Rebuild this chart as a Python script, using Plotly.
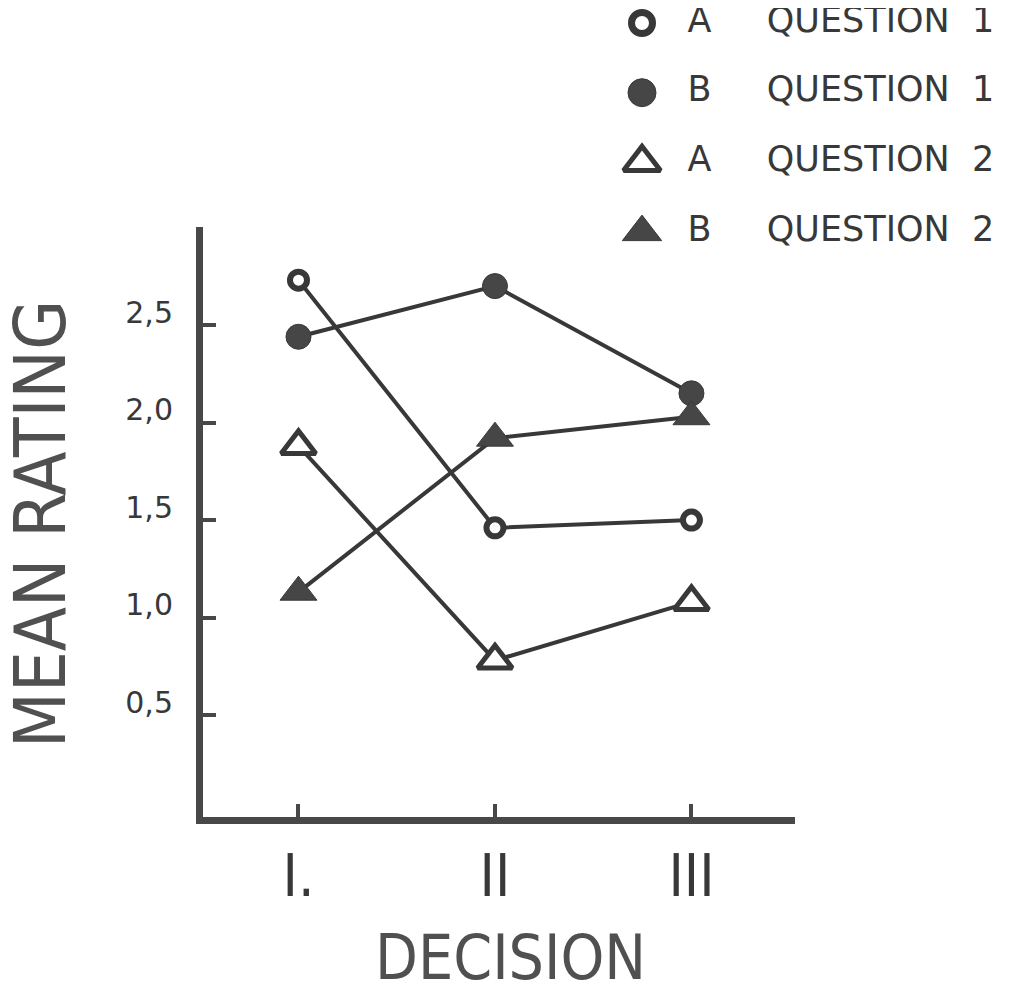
import plotly.graph_objects as go

# ---- data ----
decisions = ["I.", "II", "III"]
a_question1 = [2.73, 1.46, 1.50]
b_question1 = [2.44, 2.70, 2.15]
a_question2 = [1.88, 0.78, 1.08]
b_question2 = [1.13, 1.92, 2.03]
y_tick_values = [0.5, 1.0, 1.5, 2.0, 2.5, 3.0]
y_tick_labels = ["0,5", "1,0", "1,5", "2,0", "2,5", ""]

legend_groups = ["A", "B", "A", "B"]
legend_labels = ["QUESTION\u00a0\u00a01", "QUESTION\u00a0\u00a01",
                 "QUESTION\u00a0\u00a02", "QUESTION\u00a0\u00a02"]
legend_rows = [0, 1, 2, 3]

INK = "#383838"
AXIS_INK = "#484848"
NARROW = "DejaVu Sans Condensed, Liberation Sans Narrow, Liberation Sans, sans-serif"
ROUND = "DejaVu Sans, Verdana, sans-serif"

# the page body adds an 8px margin, so the figure is sized to fit the window
W, H = 1002, 978

series = [
    dict(values=a_question1, symbol="circle", size=17, fill="white", lw=6),
    dict(values=b_question1, symbol="circle", size=25, fill="#464646", lw=1),
    dict(values=a_question2, symbol="triangle-up", size=30, fill="white", lw=5),
    dict(values=b_question2, symbol="triangle-up", size=32, fill="#464646", lw=1),
]

fig = go.Figure()
for s in series:
    fig.add_trace(go.Scatter(
        x=decisions, y=s["values"], mode="lines+markers",
        line=dict(color=INK, width=4),
        marker=dict(symbol=s["symbol"], size=s["size"], color=s["fill"], opacity=1,
                    line=dict(color=INK, width=s["lw"])),
        cliponaxis=False, showlegend=False, xaxis="x", yaxis="y",
    ))

# ---- hand-drawn style legend (top right) ----
fig.add_trace(go.Scatter(
    x=[0] * len(legend_rows), y=legend_rows, mode="markers",
    marker=dict(symbol=[s["symbol"] for s in series],
                size=[21, 28, 32, 34], opacity=1,
                color=[s["fill"] for s in series],
                line=dict(color=INK, width=[7, 1, 5, 1])),
    cliponaxis=False, showlegend=False, xaxis="x2", yaxis="y2",
))
fig.add_trace(go.Scatter(
    x=[0.9] * len(legend_rows), y=legend_rows, mode="text", text=legend_groups,
    textposition="middle center",
    textfont=dict(family=ROUND, size=35, color=INK),
    cliponaxis=False, showlegend=False, xaxis="x2", yaxis="y2",
))
fig.add_trace(go.Scatter(
    x=[1.95] * len(legend_rows), y=legend_rows, mode="text", text=legend_labels,
    textposition="middle right",
    textfont=dict(family=ROUND, size=35, color=INK),
    cliponaxis=False, showlegend=False, xaxis="x2", yaxis="y2",
))

fig.update_layout(
    width=W, height=H, autosize=False,
    margin=dict(l=0, r=0, t=0, b=0),
    paper_bgcolor="white", plot_bgcolor="white",
    showlegend=False,
    xaxis=dict(
        type="category", range=[-0.486, 2.527],
        domain=[195 / W, 787 / W], anchor="y",
        showline=True, linewidth=7, linecolor=AXIS_INK,
        ticks="inside", ticklen=13, tickwidth=4, tickcolor=AXIS_INK,
        showgrid=False, zeroline=False,
        tickfont=dict(family=NARROW, size=58, color=INK),
        ticklabelstandoff=2,
    ),
    yaxis=dict(
        range=[-0.023, 3.003],
        domain=[1 - 809 / H, 1 - 219 / H], anchor="x",
        showline=True, linewidth=7, linecolor=AXIS_INK,
        ticks="inside", ticklen=13, tickwidth=4, tickcolor=AXIS_INK,
        tickmode="array", tickvals=y_tick_values, ticktext=y_tick_labels,
        showgrid=False, zeroline=False,
        tickfont=dict(family=ROUND, size=30, color=INK),
        ticklabelshift=-13, ticklabelstandoff=17,
    ),
    xaxis2=dict(domain=[602 / W, 998.8 / W], range=[-0.5, 5.7], visible=False,
                anchor="y2", fixedrange=True),
    yaxis2=dict(domain=[1 - 252 / H, 1.0], range=[3.4, -0.215], visible=False,
                anchor="x2", fixedrange=True),
    annotations=[
        dict(text="MEAN RATING", xref="paper", yref="paper",
             x=32 / W, y=1 - 516 / H, xanchor="center", yanchor="middle",
             textangle=-90, showarrow=False,
             font=dict(family=NARROW, size=72, color="#505050")),
        dict(text="DECISION", xref="paper", yref="paper",
             x=502 / W, y=1 - 949 / H, xanchor="center", yanchor="middle",
             showarrow=False,
             font=dict(family=NARROW, size=62, color="#505050")),
    ],
)

fig.write_html("out.html")
